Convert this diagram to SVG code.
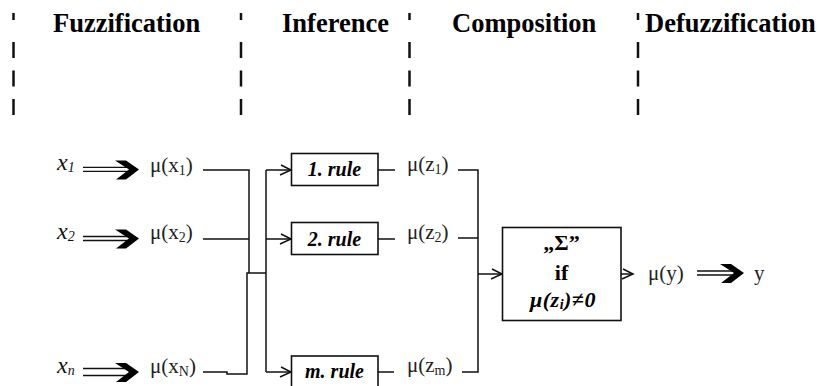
<svg xmlns="http://www.w3.org/2000/svg" width="820" height="386" viewBox="0 0 820 386">
<style>
 .hdr{font-family:"Liberation Serif","DejaVu Serif",serif;font-weight:bold;font-size:26.5px;fill:#000}
 .sep{stroke:#111;stroke-width:2.5;fill:none}
 .w{stroke:#111;stroke-width:1.5;fill:none}
 .box{stroke:#111;stroke-width:1.6;fill:#fff}
 .mu{font-family:"Liberation Serif","DejaVu Serif",serif;font-size:21px;fill:#222}
 .sub{font-size:14px}
 .xi{font-family:"Liberation Serif","DejaVu Serif",serif;font-style:italic;font-size:24px;fill:#111}
 .rule{font-family:"Liberation Serif","DejaVu Serif",serif;font-style:italic;font-weight:bold;font-size:20px;fill:#000;text-anchor:middle}
 .ct{font-family:"Liberation Serif","DejaVu Serif",serif;font-weight:bold;font-size:22px;fill:#000;text-anchor:middle}
 .dbl{stroke:#111;stroke-width:1.3}
</style>
<defs>
 <marker id="chev" viewBox="-12 -7 14 14" refX="0" refY="0" markerWidth="14" markerHeight="14" markerUnits="userSpaceOnUse" orient="auto">
  <path d="M-10,-5 L0,0 L-11,5" fill="none" stroke="#111" stroke-width="1.5"/>
 </marker>
 <path id="fat" d="M-24,-9 L-13,-9 L0,0 L-13,10 L-23,10 L-10,0 Z" fill="#000"/>
</defs>

<g id="separators">
 <line class="sep" x1="13.5" y1="13" x2="13.5" y2="20"/>
 <line class="sep" x1="13.5" y1="42" x2="13.5" y2="117" stroke-dasharray="16 12.5"/>
 <line class="sep" x1="241" y1="13" x2="241" y2="20"/>
 <line class="sep" x1="241" y1="42" x2="241" y2="117" stroke-dasharray="16 12.5"/>
 <line class="sep" x1="409.5" y1="13" x2="409.5" y2="20"/>
 <line class="sep" x1="409.5" y1="42" x2="409.5" y2="117" stroke-dasharray="16 12.5"/>
 <line class="sep" x1="638" y1="13" x2="638" y2="20"/>
 <line class="sep" x1="638" y1="42" x2="638" y2="117" stroke-dasharray="16 12.5"/>
</g>

<g id="headers">
 <text id="h-fuzz" class="hdr" x="53" y="32">Fuzzification</text>
 <text id="h-inf" class="hdr" x="282" y="32">Inference</text>
 <text id="h-comp" class="hdr" x="452" y="32">Composition</text>
 <text id="h-defuzz" class="hdr" x="645" y="32">Defuzzification</text>
</g>

<g id="connectors">
 <line class="dbl" x1="83" y1="167.3" x2="128" y2="167.3"/>
 <line class="dbl" x1="83" y1="171.3" x2="128" y2="171.3"/>
 <use href="#fat" transform="translate(139,169.5)"/>
 <line class="dbl" x1="83" y1="236.5" x2="128" y2="236.5"/>
 <line class="dbl" x1="83" y1="240.5" x2="128" y2="240.5"/>
 <use href="#fat" transform="translate(139,238.5)"/>
 <line class="dbl" x1="83" y1="368.5" x2="128" y2="368.5"/>
 <line class="dbl" x1="83" y1="375.5" x2="128" y2="375.5"/>
 <use href="#fat" transform="translate(139,372)"/>
 <path class="w" d="M203,170 H249 V273"/>
 <path class="w" d="M203,239 H249"/>
 <path class="w" d="M266,273 H247 V374 H227 V372 H203"/>
 <path class="w" d="M266,170 V372"/>
 <path class="w" d="M266,170 H291" marker-end="url(#chev)"/>
 <path class="w" d="M266,239 H291" marker-end="url(#chev)"/>
 <path class="w" d="M266,372 H291" marker-end="url(#chev)"/>
 <path class="w" d="M378,170 H395"/>
 <path class="w" d="M378,239 H395"/>
 <path class="w" d="M378,372 H394"/>
 <path class="w" d="M458,170 H478 V372 H462"/>
 <path class="w" d="M458,238 H478"/>
 <path class="w" d="M478,274 H502" marker-end="url(#chev)"/>
 <path class="w" d="M621,274 H633" marker-end="url(#chev)"/>
 <line class="dbl" x1="697" y1="271" x2="733" y2="271"/>
 <line class="dbl" x1="697" y1="275" x2="733" y2="275"/>
 <use href="#fat" transform="translate(744,273)"/>
</g>

<g id="in-x1"><text class="xi" x="57" y="170">x<tspan class="sub" dy="2">1</tspan></text></g>
<g id="in-x2"><text class="xi" x="57" y="239">x<tspan class="sub" dy="2">2</tspan></text></g>
<g id="in-xn"><text class="xi" x="57" y="373">x<tspan class="sub" dy="2">n</tspan></text></g>

<g id="mu-x1"><text class="mu" x="150" y="172">μ(x<tspan class="sub" dy="3">1</tspan><tspan dy="-3">)</tspan></text></g>
<g id="mu-x2"><text class="mu" x="150" y="238.5">μ(x<tspan class="sub" dy="3">2</tspan><tspan dy="-3">)</tspan></text></g>
<g id="mu-xN"><text class="mu" x="150" y="373">μ(x<tspan class="sub" dy="3">N</tspan><tspan dy="-3">)</tspan></text></g>

<g id="rule1">
 <rect class="box" x="291.5" y="153.5" width="86.5" height="32"/>
 <text class="rule" x="334.5" y="176">1. rule</text>
</g>
<g id="rule2">
 <rect class="box" x="291.5" y="222.5" width="86.5" height="32"/>
 <text class="rule" x="334.5" y="245.5">2. rule</text>
</g>
<g id="rulem">
 <rect class="box" x="291.5" y="356" width="86.5" height="32"/>
 <text class="rule" x="334.5" y="378">m. rule</text>
</g>

<g id="mu-z1"><text class="mu" x="407" y="171">μ(z<tspan class="sub" dy="3">1</tspan><tspan dy="-3">)</tspan></text></g>
<g id="mu-z2"><text class="mu" x="407" y="239">μ(z<tspan class="sub" dy="3">2</tspan><tspan dy="-3">)</tspan></text></g>
<g id="mu-zm"><text class="mu" x="407" y="372">μ(z<tspan class="sub" dy="3">m</tspan><tspan dy="-3">)</tspan></text></g>

<g id="composition">
 <rect class="box" x="502.5" y="227.5" width="118.5" height="93"/>
 <text class="ct" x="561.5" y="250">„Σ”</text>
 <text class="ct" x="561.5" y="280">if</text>
 <text class="ct" x="563" y="307" font-style="italic" letter-spacing="0.5">μ(z<tspan class="sub" dy="2">i</tspan><tspan dy="-2">)≠0</tspan></text>
</g>

<g id="mu-y"><text class="mu" x="648" y="280">μ(y)</text></g>
<g id="out-y"><text class="mu" x="754" y="280" font-size="22">y</text></g>
</svg>
